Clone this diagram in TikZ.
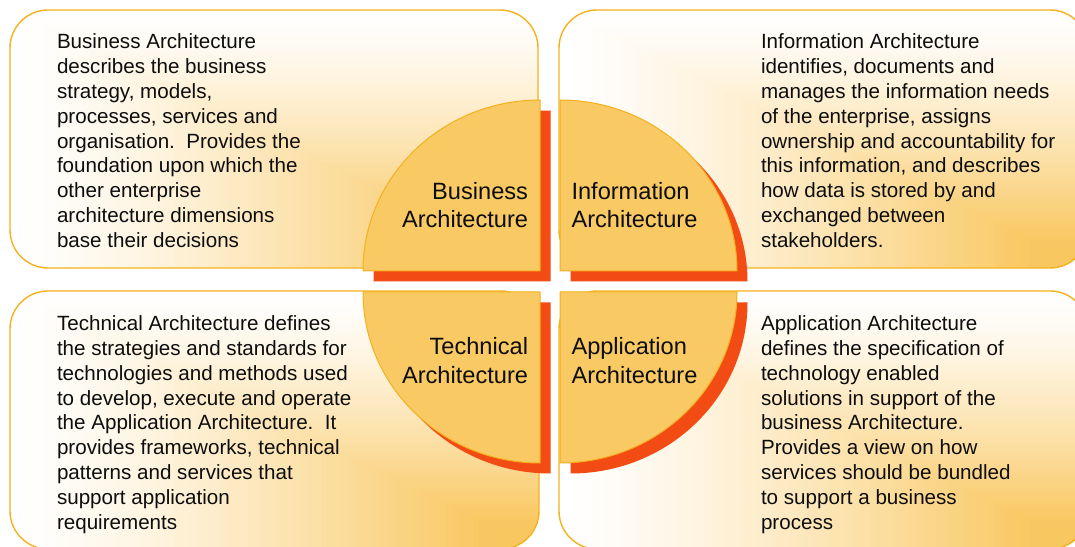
\documentclass[tikz,border=0pt]{standalone}
\usepackage{fontspec}
\setmainfont{Liberation Sans}

% soft orange glow, strongest in the lower right corner of a box
\newcommand{\cornerglow}[4]{%
  \begin{scope}
  \path[clip,rounded corners=38pt] (#1,#2) rectangle (#3,#4);
  \path[fill=white] (#1,#2) rectangle (#3,#4);
  \foreach \s in {80,79,...,1}{%
    \pgfmathtruncatemacro{\p}{min(100,115*(1-(\s-0.5)/80)^1.3)}%
    \path[fill=glowColor!\p!white] ({#3-(#3-#1)/80*\s},#2) rectangle (#3,{#2+(#4-#2)/80*\s});
  }
  \end{scope}}

\begin{document}
\begin{tikzpicture}[x=1pt,y=1pt,
  bodytext/.style={text=textColor,anchor=base west,align=left,inner sep=0pt,outer sep=0pt,
    font=\fontsize{20.6}{24.8}\selectfont},
  pielabel/.style={text=textColor,inner sep=0pt,outer sep=0pt,
    font=\fontsize{23.6}{28.5}\selectfont}]
\definecolor[named]{glowColor}{rgb}{0.976,0.780,0.373}
\definecolor[named]{boxLine}{rgb}{0.965,0.698,0.110}
\definecolor[named]{pieFill}{rgb}{0.976,0.788,0.388}
\definecolor[named]{pieLine}{rgb}{0.957,0.690,0.118}
\definecolor[named]{shadowColor}{rgb}{0.949,0.294,0.078}
\definecolor[named]{textColor}{rgb}{0.05,0.05,0.05}
\path[use as bounding box,fill=white] (0,0) rectangle (1075,546);
\begin{scope}
\path[clip] (0,0) rectangle (1075,546);

% the four text panels
\cornerglow{10}{278}{538}{536}
\cornerglow{559}{278}{1088}{536}
\cornerglow{10}{-3}{539}{255}
\cornerglow{559}{-3}{1088}{255}
\path[draw=boxLine,line width=1.4pt,rounded corners=38pt] (10,278) rectangle (538,536);
\path[draw=boxLine,line width=1.4pt,rounded corners=38pt] (559,278) rectangle (1088,536);
\path[draw=boxLine,line width=1.4pt,rounded corners=38pt] (10,-3) rectangle (539,255);
\path[draw=boxLine,line width=1.4pt,rounded corners=38pt] (559,-3) rectangle (1088,255);

% shadows of the quarters
\path[fill=shadowColor] (550.5,264.5) -- (550.5,435.5) arc[start angle=90,end angle=180,x radius=177,y radius=171] -- cycle;
\path[fill=shadowColor] (570.5,264.5) -- (747.5,264.5) arc[start angle=0,end angle=90,x radius=177,y radius=171] -- cycle;
\path[fill=shadowColor] (550.5,243.5) -- (373.5,243.5) arc[start angle=180,end angle=270,x radius=177,y radius=171] -- cycle;
\path[fill=shadowColor] (570.5,243.5) -- (570.5,72.5) arc[start angle=270,end angle=360,x radius=177,y radius=171] -- cycle;

% the quarters
\path[draw=pieLine,line width=1pt,fill=pieFill,line join=round] (540,275) -- (540,446) arc[start angle=90,end angle=180,x radius=177,y radius=171] -- cycle;
\path[draw=pieLine,line width=1pt,fill=pieFill,line join=round] (560,275) -- (737,275) arc[start angle=0,end angle=90,x radius=177,y radius=171] -- cycle;
\path[draw=pieLine,line width=1pt,fill=pieFill,line join=round] (540,254) -- (363,254) arc[start angle=180,end angle=270,x radius=177,y radius=171] -- cycle;
\path[draw=pieLine,line width=1pt,fill=pieFill,line join=round] (560,254) -- (560,83) arc[start angle=270,end angle=360,x radius=177,y radius=171] -- cycle;

% base of a node = base of its last line
\node[pielabel,anchor=base east,align=right] (busLabel) at (528,318) {Business\\Architecture};
\node[pielabel,anchor=base west,align=left] (infoLabel) at (571.5,318) {Information\\Architecture};
\node[pielabel,anchor=base east,align=right] (techLabel) at (528,162.5) {Technical\\Architecture};
\node[pielabel,anchor=base west,align=left] (appLabel) at (571.5,162.5) {Application\\Architecture};

\node[bodytext] (busText) at (57,298.6) {Business Architecture\\
  describes the business\\
  strategy, models,\\
  processes, services and\\
  organisation.\ \ Provides the\\
  foundation upon which the\\
  other enterprise\\
  architecture dimensions\\
  base their decisions};

\node[bodytext] (infoText) at (761,298.6) {Information Architecture\\
  identifies, documents and\\
  manages the information needs\\
  of the enterprise, assigns\\
  ownership and accountability for\\
  this information, and describes\\
  how data is stored by and\\
  exchanged between\\
  stakeholders.};

\node[bodytext] (techText) at (57,16.9) {Technical Architecture defines\\
  the strategies and standards for\\
  technologies and methods used\\
  to develop, execute and operate\\
  the Application Architecture.\ \ It\\
  provides frameworks, technical\\
  patterns and services that\\
  support application\\
  requirements};

\node[bodytext] (appText) at (761,16.9) {Application Architecture\\
  defines the specification of\\
  technology enabled\\
  solutions in support of the\\
  business Architecture.\\
  Provides a view on how\\
  services should be bundled\\
  to support a business\\
  process};
\end{scope}
\end{tikzpicture}
\end{document}
